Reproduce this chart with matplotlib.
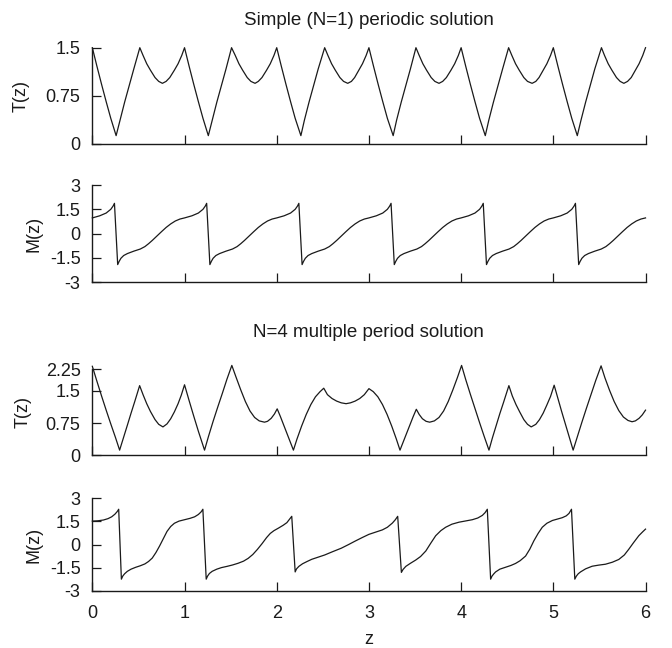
import matplotlib
matplotlib.use('Agg')
import matplotlib.pyplot as plt

plt.rcParams['font.family'] = ['Liberation Sans', 'DejaVu Sans']

# ---------------- data ----------------
x_ticks = [0, 1, 2, 3, 4, 5, 6]
x_ticklabels = ['0', '1', '2', '3', '4', '5', '6']

t1_ticks = [0, 0.75, 1.5]
t1_labels = ['0', '0.75', '1.5']
m_ticks = [-3, -1.5, 0, 1.5, 3]
m_labels = ['-3', '-1.5', '0', '1.5', '3']
t4_ticks = [0, 0.75, 1.5, 2.0]
t4_labels = ['0', '0.75', '1.5', '2.25']

# Panel 1: T(z), N=1
t1_z = [
    0.00, 0.05, 0.10, 0.15, 0.20, 0.258, 0.30, 0.35, 0.40, 0.45, 0.515, 0.55, 0.59, 0.63, 0.68, 0.72, 0.76, 0.80, 0.84, 0.89, 0.93, 0.97,
    1.00, 1.05, 1.10, 1.15, 1.20, 1.258, 1.30, 1.35, 1.40, 1.45, 1.51, 1.55, 1.59, 1.63, 1.68, 1.72, 1.765, 1.80, 1.84, 1.89, 1.93, 1.97,
    2.00, 2.05, 2.10, 2.15, 2.20, 2.262, 2.30, 2.35, 2.40, 2.45, 2.52, 2.555, 2.595, 2.635, 2.685, 2.725, 2.77, 2.81, 2.845, 2.89, 2.93, 2.97,
    3.00, 3.05, 3.10, 3.15, 3.20, 3.263, 3.30, 3.35, 3.40, 3.45, 3.51, 3.545, 3.585, 3.625, 3.675, 3.715, 3.76, 3.80, 3.84, 3.89, 3.93, 3.97,
    4.00, 4.05, 4.10, 4.15, 4.20, 4.262, 4.30, 4.35, 4.40, 4.45, 4.515, 4.55, 4.59, 4.63, 4.68, 4.72, 4.77, 4.81, 4.845, 4.89, 4.93, 4.97,
    5.00, 5.05, 5.10, 5.15, 5.20, 5.26, 5.30, 5.35, 5.40, 5.45, 5.522, 5.555, 5.595, 5.635, 5.685, 5.725, 5.765, 5.805, 5.845, 5.89, 5.93, 5.97,
    6.00]
t1_v = [
    1.50, 1.21, 0.93, 0.66, 0.40, 0.13, 0.37, 0.65, 0.91, 1.17, 1.50, 1.38, 1.25, 1.15, 1.035, 0.975, 0.945, 0.975, 1.035, 1.15, 1.25, 1.38,
    1.50, 1.21, 0.93, 0.66, 0.40, 0.13, 0.37, 0.65, 0.91, 1.17, 1.50, 1.38, 1.25, 1.15, 1.035, 0.975, 0.945, 0.975, 1.035, 1.15, 1.25, 1.38,
    1.50, 1.21, 0.93, 0.66, 0.40, 0.13, 0.37, 0.65, 0.91, 1.17, 1.50, 1.38, 1.25, 1.15, 1.035, 0.975, 0.945, 0.975, 1.035, 1.15, 1.25, 1.38,
    1.50, 1.21, 0.93, 0.66, 0.40, 0.13, 0.37, 0.65, 0.91, 1.17, 1.50, 1.38, 1.25, 1.15, 1.035, 0.975, 0.945, 0.975, 1.035, 1.15, 1.25, 1.38,
    1.50, 1.21, 0.93, 0.66, 0.40, 0.13, 0.37, 0.65, 0.91, 1.17, 1.50, 1.38, 1.25, 1.15, 1.035, 0.975, 0.945, 0.975, 1.035, 1.15, 1.25, 1.38,
    1.50, 1.21, 0.93, 0.66, 0.40, 0.13, 0.37, 0.65, 0.91, 1.17, 1.50, 1.38, 1.25, 1.15, 1.035, 0.975, 0.945, 0.975, 1.035, 1.15, 1.25, 1.38,
    1.50]

# Panel 2: M(z), N=1
m1_z = [
    0.00, 0.08, 0.15, 0.20, 0.225, 0.24, 0.275, 0.29, 0.31, 0.34, 0.38, 0.45, 0.52, 0.57, 0.61, 0.65, 0.70, 0.75, 0.80, 0.85, 0.90, 0.95,
    1.00, 1.08, 1.15, 1.20, 1.225, 1.24, 1.275, 1.29, 1.31, 1.34, 1.38, 1.45, 1.52, 1.57, 1.61, 1.65, 1.70, 1.75, 1.80, 1.85, 1.90, 1.95,
    2.00, 2.08, 2.15, 2.20, 2.225, 2.24, 2.275, 2.29, 2.31, 2.34, 2.38, 2.45, 2.52, 2.57, 2.61, 2.65, 2.70, 2.75, 2.80, 2.85, 2.90, 2.95,
    3.00, 3.08, 3.15, 3.20, 3.225, 3.24, 3.275, 3.29, 3.31, 3.34, 3.38, 3.45, 3.52, 3.57, 3.61, 3.65, 3.70, 3.75, 3.80, 3.85, 3.90, 3.95,
    4.00, 4.08, 4.15, 4.20, 4.225, 4.24, 4.275, 4.29, 4.31, 4.34, 4.38, 4.45, 4.52, 4.57, 4.61, 4.65, 4.70, 4.75, 4.80, 4.85, 4.90, 4.95,
    5.00, 5.08, 5.15, 5.20, 5.225, 5.24, 5.275, 5.29, 5.31, 5.34, 5.38, 5.45, 5.52, 5.57, 5.61, 5.65, 5.70, 5.75, 5.80, 5.85, 5.90, 5.95,
    6.00]
m1_v = [
    0.97, 1.10, 1.27, 1.50, 1.70, 1.87, -1.91, -1.72, -1.52, -1.35, -1.23, -1.08, -0.95, -0.80, -0.62, -0.42, -0.15, 0.12, 0.38, 0.60, 0.78, 0.90,
    0.97, 1.10, 1.27, 1.50, 1.70, 1.87, -1.91, -1.72, -1.52, -1.35, -1.23, -1.08, -0.95, -0.80, -0.62, -0.42, -0.15, 0.12, 0.38, 0.60, 0.78, 0.90,
    0.97, 1.10, 1.27, 1.50, 1.70, 1.87, -1.91, -1.72, -1.52, -1.35, -1.23, -1.08, -0.95, -0.80, -0.62, -0.42, -0.15, 0.12, 0.38, 0.60, 0.78, 0.90,
    0.97, 1.10, 1.27, 1.50, 1.70, 1.87, -1.91, -1.72, -1.52, -1.35, -1.23, -1.08, -0.95, -0.80, -0.62, -0.42, -0.15, 0.12, 0.38, 0.60, 0.78, 0.90,
    0.97, 1.10, 1.27, 1.50, 1.70, 1.87, -1.91, -1.72, -1.52, -1.35, -1.23, -1.08, -0.95, -0.80, -0.62, -0.42, -0.15, 0.12, 0.38, 0.60, 0.78, 0.90,
    0.97, 1.10, 1.27, 1.50, 1.70, 1.87, -1.91, -1.72, -1.52, -1.35, -1.23, -1.08, -0.95, -0.80, -0.62, -0.42, -0.15, 0.12, 0.38, 0.60, 0.78, 0.90,
    0.97]

# Panel 3: T(z), N=4
t4_z = [
    0.00, 0.05, 0.10, 0.15, 0.20, 0.25, 0.296, 0.34, 0.38, 0.42, 0.46, 0.513,
    0.55, 0.59, 0.63, 0.68, 0.72, 0.766, 0.81, 0.85, 0.89, 0.93, 0.965, 1.00,
    1.05, 1.10, 1.15, 1.217, 1.26, 1.31, 1.36, 1.41, 1.46, 1.513,
    1.56, 1.61, 1.66, 1.71, 1.76, 1.81, 1.867, 1.90, 1.94, 1.975, 2.005,
    2.04, 2.08, 2.12, 2.15, 2.181, 2.22, 2.27, 2.32, 2.37, 2.42, 2.47, 2.51,
    2.55, 2.60, 2.65, 2.70, 2.752, 2.80, 2.85, 2.90, 2.95, 3.00,
    3.047, 3.097, 3.147, 3.197, 3.247, 3.297, 3.337, 3.37, 3.41, 3.45, 3.48, 3.514,
    3.545, 3.58, 3.62, 3.659, 3.71, 3.76, 3.81, 3.86, 3.91, 3.96, 4.005,
    4.05, 4.10, 4.15, 4.20, 4.25, 4.302, 4.34, 4.38, 4.42, 4.46, 4.518,
    4.555, 4.595, 4.635, 4.68, 4.72, 4.76, 4.81, 4.85, 4.89, 4.93, 4.97, 5.009,
    5.05, 5.09, 5.13, 5.17, 5.215, 5.26, 5.31, 5.36, 5.41, 5.46, 5.518,
    5.56, 5.61, 5.66, 5.71, 5.76, 5.81, 5.854, 5.89, 5.93, 5.965, 6.00]
t4_v = [
    2.07, 1.72, 1.38, 1.05, 0.73, 0.42, 0.12, 0.42, 0.70, 0.98, 1.25, 1.62,
    1.41, 1.20, 1.02, 0.83, 0.72, 0.66, 0.73, 0.85, 1.01, 1.20, 1.40, 1.64,
    1.27, 0.91, 0.56, 0.12, 0.44, 0.79, 1.12, 1.44, 1.77, 2.09,
    1.81, 1.52, 1.25, 1.03, 0.88, 0.80, 0.77, 0.79, 0.86, 0.96, 1.08,
    0.90, 0.68, 0.46, 0.29, 0.12, 0.38, 0.68, 0.95, 1.18, 1.36, 1.48, 1.56,
    1.41, 1.32, 1.26, 1.22, 1.20, 1.22, 1.26, 1.32, 1.41, 1.55,
    1.48, 1.36, 1.18, 0.95, 0.68, 0.38, 0.12, 0.30, 0.52, 0.74, 0.90, 1.07,
    0.95, 0.85, 0.79, 0.77, 0.80, 0.88, 1.03, 1.25, 1.52, 1.81, 2.09,
    1.76, 1.42, 1.09, 0.76, 0.44, 0.12, 0.41, 0.69, 0.97, 1.23, 1.62,
    1.38, 1.18, 1.01, 0.83, 0.72, 0.66, 0.72, 0.83, 0.98, 1.17, 1.37, 1.63,
    1.32, 1.02, 0.73, 0.44, 0.12, 0.43, 0.77, 1.10, 1.42, 1.74, 2.08,
    1.80, 1.51, 1.25, 1.04, 0.89, 0.81, 0.78, 0.80, 0.86, 0.94, 1.05]

# Panel 4: M(z), N=4
m4_z = [
    0.00, 0.06, 0.12, 0.17, 0.21, 0.245, 0.27, 0.286,
    0.315, 0.33, 0.35, 0.38, 0.42, 0.47, 0.52, 0.57, 0.61, 0.65, 0.69, 0.73, 0.77, 0.81, 0.85, 0.89, 0.94, 1.00, 1.06, 1.11, 1.15, 1.18, 1.199,
    1.235, 1.25, 1.27, 1.30, 1.35, 1.40, 1.46, 1.52, 1.58, 1.64, 1.69, 1.74, 1.79, 1.84, 1.89, 1.93, 1.97, 2.02, 2.07, 2.11, 2.14, 2.163,
    2.20, 2.215, 2.24, 2.28, 2.33, 2.38, 2.45, 2.52, 2.60, 2.70, 2.78, 2.85, 2.93, 3.00, 3.07, 3.146, 3.20, 3.254, 3.285, 3.312,
    3.352, 3.37, 3.40, 3.45, 3.507, 3.56, 3.617, 3.67, 3.724, 3.78, 3.832, 3.90, 3.977, 4.05, 4.121, 4.18, 4.23, 4.26, 4.284,
    4.32, 4.335, 4.355, 4.374, 4.42, 4.48, 4.54, 4.59, 4.64, 4.699, 4.745, 4.789, 4.835, 4.88, 4.93, 4.99, 5.05, 5.096, 5.14, 5.17, 5.197,
    5.233, 5.25, 5.27, 5.295, 5.35, 5.421, 5.49, 5.565, 5.64, 5.71, 5.77, 5.818, 5.87, 5.927, 5.97, 6.00]
m4_v = [
    1.52, 1.54, 1.59, 1.68, 1.80, 1.97, 2.14, 2.29,
    -2.25, -2.05, -1.90, -1.74, -1.60, -1.48, -1.38, -1.26, -1.10, -0.88, -0.52, -0.09, 0.38, 0.85, 1.17, 1.38, 1.52, 1.61, 1.70, 1.80, 1.95, 2.12, 2.29,
    -2.25, -2.05, -1.88, -1.74, -1.60, -1.50, -1.42, -1.33, -1.22, -1.08, -0.90, -0.65, -0.32, 0.05, 0.45, 0.72, 0.90, 1.07, 1.25, 1.42, 1.65, 1.83,
    -1.78, -1.58, -1.42, -1.25, -1.10, -0.96, -0.82, -0.68, -0.48, -0.24, 0.00, 0.22, 0.46, 0.66, 0.80, 0.95, 1.12, 1.39, 1.60, 1.83,
    -1.81, -1.62, -1.42, -1.22, -1.01, -0.78, -0.42, 0.08, 0.57, 0.90, 1.12, 1.32, 1.45, 1.53, 1.61, 1.72, 1.89, 2.07, 2.29,
    -2.25, -2.05, -1.90, -1.78, -1.60, -1.48, -1.36, -1.23, -1.05, -0.75, -0.30, 0.24, 0.72, 1.12, 1.38, 1.56, 1.66, 1.74, 1.86, 2.02, 2.29,
    -2.25, -2.05, -1.90, -1.78, -1.58, -1.41, -1.34, -1.28, -1.15, -0.97, -0.68, -0.31, 0.12, 0.57, 0.83, 1.00]

# ---------------- figure ----------------
fig = plt.figure(figsize=(6.72, 6.48), dpi=100)
LEFT, WIDTH = 0.1374, 0.8232
rects = [(0.7778, 0.1486), (0.5644, 0.1501), (0.2974, 0.1327), (0.0884, 0.1426)]

# label x: axes-fraction position of the label's right edge
panels = [
    (t1_z, t1_v, (0, 1.5), t1_ticks, t1_labels, 'T(z)', -0.1126),
    (m1_z, m1_v, (-3, 3), m_ticks, m_labels, 'M(z)', -0.0909),
    (t4_z, t4_v, (0, 2.0), t4_ticks, t4_labels, 'T(z)', -0.1090),
    (m4_z, m4_v, (-3, 3), m_ticks, m_labels, 'M(z)', -0.0909),
]

FS = 13
ink = '#1a1a1a'
axes = []
for i, (zs, vs, ylim, yt, ytl, ylab, labx) in enumerate(panels):
    b, h = rects[i]
    ax = fig.add_axes([LEFT, b, WIDTH, h])
    ax.plot(zs, vs, color=ink, lw=0.9, clip_on=False)
    ax.set_xlim(0, 6)
    ax.set_ylim(*ylim)
    ax.set_xticks(x_ticks)
    ax.set_yticks(yt)
    ax.set_yticklabels(ytl)
    for s in ('top', 'right'):
        ax.spines[s].set_visible(False)
    for s in ('left', 'bottom'):
        ax.spines[s].set_linewidth(1.0)
        ax.spines[s].set_color(ink)
    ax.tick_params(axis='both', direction='in', length=6.5, width=0.9,
                   color=ink, labelsize=FS, labelcolor=ink)
    ax.tick_params(axis='y', pad=8.5)
    ax.tick_params(axis='x', pad=10)
    ax.set_ylabel(ylab, fontsize=FS, color=ink)
    ax.yaxis.set_label_coords(labx, 0.5)
    if i < 3:
        ax.set_xticklabels([])
    else:
        ax.set_xticklabels(x_ticklabels)
        ax.set_xlabel('z', fontsize=FS, color=ink, labelpad=7)
    axes.append(ax)

cx = LEFT + WIDTH / 2
fig.text(cx, 1 - 25 / 648, 'Simple (N=1) periodic solution', ha='center',
         va='baseline', fontsize=13.5, color=ink)
fig.text(cx, 1 - 337 / 648, 'N=4 multiple period solution', ha='center',
         va='baseline', fontsize=13.5, color=ink)

fig.savefig('out.png', dpi=100)
